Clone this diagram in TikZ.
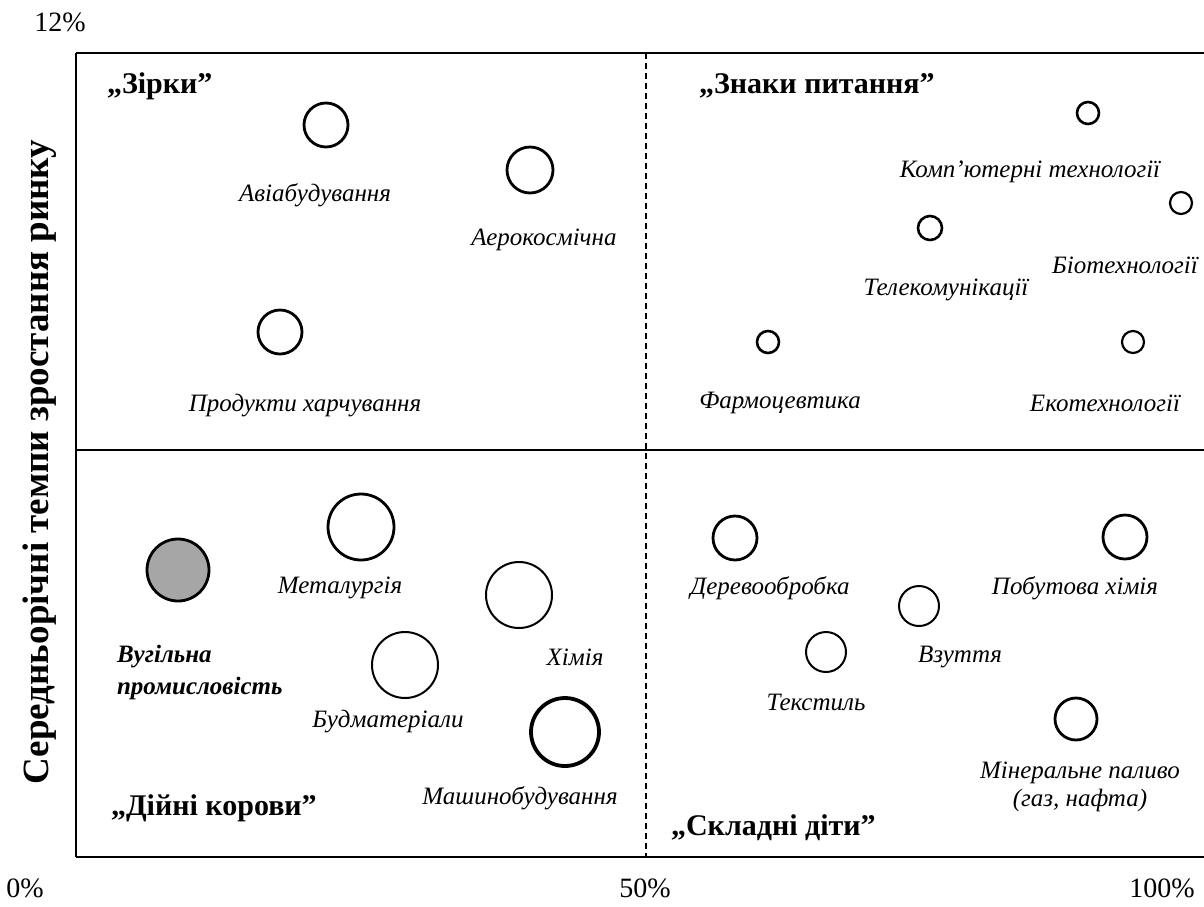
\documentclass[tikz,border=0pt]{standalone}
\usepackage{fontspec}
\setmainfont{Liberation Serif}
\begin{document}
\begin{tikzpicture}[x=0.5pt,y=-0.5pt,
    firm/.style={circle,draw,line width=1.4pt,inner sep=0pt},
    lbl/.style={font=\fontsize{12.5}{14}\selectfont\itshape},
    quad/.style={font=\fontsize{15}{17}\selectfont\bfseries,anchor=west},
    pct/.style={font=\fontsize{14}{16}\selectfont}]
\useasboundingbox (0,0) rectangle (1204,906);
% frame and quadrants
\draw[line width=1.3pt] (1204,53)--(76,53);
\draw[line width=1.3pt] (76,857)--(1204,857);
\draw[line width=0.8pt] (76,53)--(76,857);
\draw[line width=0.9pt] (76,450)--(1204,450);
\draw[densely dashed,line width=0.6pt] (646,53)--(646,857);
% axes
\node[pct] (p12) at (60,22) {12\%};
\node[pct] (p0) at (25,888) {0\%};
\node[pct] (p50) at (645,888) {50\%};
\node[pct] (p100) at (1162,888) {100\%};
\node[rotate=90,font=\fontsize{18.5}{21}\selectfont\bfseries] (ylab) at (40,462) {Середньорічні темпи зростання ринку};
% quadrant names
\node[quad] (stars) at (100,86) {„Зірки”};
\node[quad] (quest) at (692,86) {„Знаки питання”};
\node[quad] (cows) at (104,808) {„Дійні корови”};
\node[quad] (kids) at (664,828) {„Складні діти”};
% stars
\node[firm,minimum size=22pt] (avia) at (326,125) {};
\node[lbl] (avial) at (315,195) {Авіабудування};
\node[firm,minimum size=23pt] (aero) at (530,170) {};
\node[lbl] (aerol) at (544,240) {Аерокосмічна};
\node[firm,minimum size=22pt] (food) at (280,332) {};
\node[lbl] (foodl) at (305,406) {Продукти харчування};
% question marks
\node[firm,minimum size=11pt,line width=1.3pt] (comp) at (1088,113) {};
\node[lbl] (compl) at (1030,172) {Комп'ютерні технології};
\node[firm,minimum size=11pt,line width=1.1pt] (bio) at (1181,203) {};
\node[lbl] (biol) at (1125,265) {Біотехнології};
\node[firm,minimum size=12pt,line width=1.3pt] (tele) at (930,228) {};
\node[lbl] (telel) at (946,290) {Телекомунікації};
\node[firm,minimum size=11pt,line width=1.3pt] (farm) at (768,342) {};
\node[lbl] (farml) at (780,403) {Фармоцевтика};
\node[firm,minimum size=11pt,line width=1.1pt] (eco) at (1133,342) {};
\node[lbl] (ecol) at (1105,403) {Екотехнології};
% cash cows
\node[firm,minimum size=31pt,fill=black!35] (coal) at (178,570) {};
\node[lbl,font=\fontsize{12.5}{16}\selectfont\bfseries\itshape,align=left,anchor=west] (coall) at (110,672) {Вугільна\\промисловість};
\node[firm,minimum size=33pt] (metal) at (361,527) {};
\node[lbl] (metall) at (340,588) {Металургія};
\node[firm,minimum size=33pt,line width=1pt] (chem) at (519,595) {};
\node[lbl] (cheml) at (575,657) {Хімія};
\node[firm,minimum size=33pt,line width=1pt] (build) at (405,665) {};
\node[lbl] (buildl) at (388,722) {Будматеріали};
\node[firm,minimum size=34pt,line width=1.9pt] (mach) at (565,732) {};
\node[lbl] (machl) at (520,798) {Машинобудування};
% dogs
\node[firm,minimum size=22pt] (wood) at (735,538) {};
\node[lbl] (woodl) at (770,588) {Деревообробка};
\node[firm,minimum size=22pt] (house) at (1125,537) {};
\node[lbl] (housel) at (1075,588) {Побутова хімія};
\node[firm,minimum size=20pt,line width=1pt] (shoe) at (919,606) {};
\node[lbl] (shoel) at (960,657) {Взуття};
\node[firm,minimum size=20pt,line width=1pt] (text) at (826,652) {};
\node[lbl] (textl) at (816,702) {Текстиль};
\node[firm,minimum size=21pt] (fuel) at (1076,719) {};
\node[lbl,align=center] (fuell) at (1080,787) {Мінеральне паливо\\(газ, нафта)};
\end{tikzpicture}
\end{document}
